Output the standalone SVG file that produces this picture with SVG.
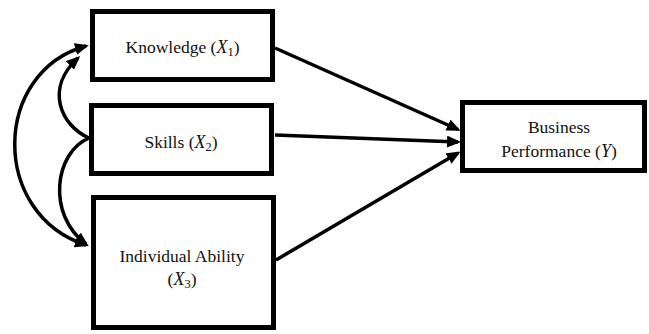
<svg xmlns="http://www.w3.org/2000/svg" width="649" height="334" viewBox="0 0 649 334">
  <style>
    .box { fill: #ffffff; stroke: #000000; stroke-width: 5; }
    .lbl { font-family: "Liberation Serif", "Times New Roman", serif; font-size: 17.5px; fill: #111111; text-anchor: middle; }
    .it { font-style: italic; font-size: 18px; }
    .sub { font-size: 12.5px; }
    .edge { fill: none; stroke: #000000; stroke-width: 3.5; }
  </style>
  <defs>
    <marker id="ah" markerUnits="userSpaceOnUse" markerWidth="14" markerHeight="12" refX="11" refY="6" orient="auto-start-reverse">
      <path d="M0,0 L14,6 L0,12 z" fill="#000000"/>
    </marker>
  </defs>

  <g id="connectors">
    <line class="edge" x1="275" y1="48" x2="458" y2="129.5" marker-end="url(#ah)"/>
    <line class="edge" x1="275" y1="135" x2="458" y2="142" marker-end="url(#ah)"/>
    <line class="edge" x1="276" y1="260" x2="458" y2="153" marker-end="url(#ah)"/>
    <path class="edge" d="M86,46 C-8,72 -10,214 86,245" marker-start="url(#ah)" marker-end="url(#ah)"/>
    <path class="edge" d="M89,138 C60,125 45,88 78,58" marker-end="url(#ah)"/>
    <path class="edge" d="M89,138 C55,152 46,214 86,244" marker-end="url(#ah)"/>
  </g>

  <g id="knowledge">
    <rect class="box" x="92.5" y="11.5" width="180" height="68"/>
    <text class="lbl" x="182.5" y="53">Knowledge (<tspan class="it">X</tspan><tspan class="sub" dy="3">1</tspan><tspan dy="-3">)</tspan></text>
  </g>

  <g id="skills">
    <rect class="box" x="91.5" y="105.5" width="180" height="68"/>
    <text class="lbl" x="181" y="148">Skills (<tspan class="it">X</tspan><tspan class="sub" dy="3">2</tspan><tspan dy="-3">)</tspan></text>
  </g>

  <g id="individual-ability">
    <rect class="box" x="93.5" y="197.5" width="180" height="130"/>
    <text class="lbl" x="182" y="262">Individual Ability</text>
    <text class="lbl" x="182" y="285">(<tspan class="it">X</tspan><tspan class="sub" dy="3">3</tspan><tspan dy="-3">)</tspan></text>
  </g>

  <g id="business-performance">
    <rect class="box" x="462.5" y="102.5" width="182" height="68"/>
    <text class="lbl" x="559" y="133">Business</text>
    <text class="lbl" x="559" y="157">Performance (<tspan class="it">Y</tspan>)</text>
  </g>
</svg>
